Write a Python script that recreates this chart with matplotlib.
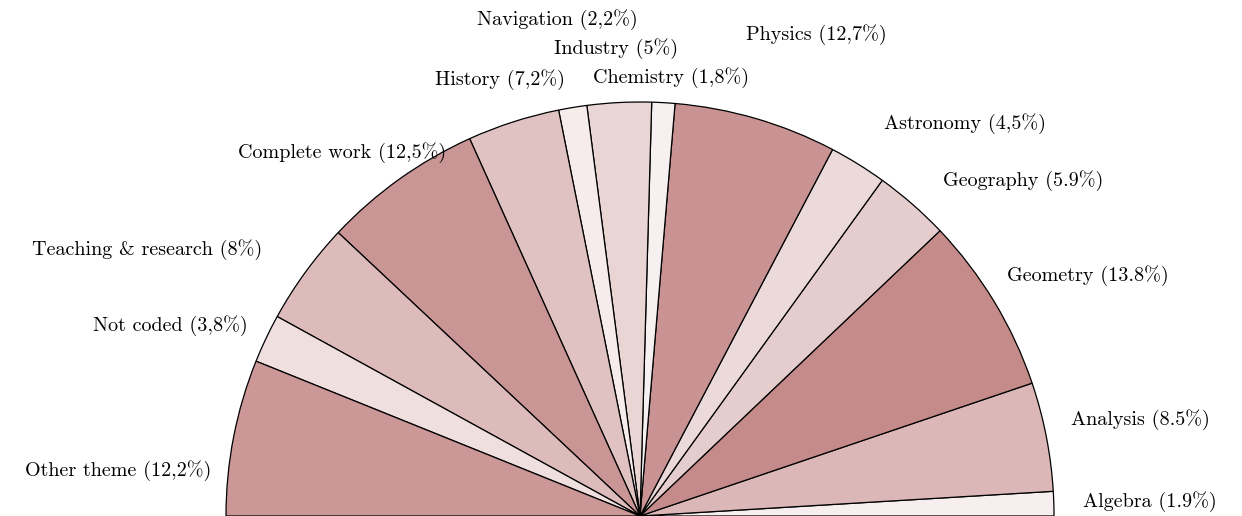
import numpy as np
import matplotlib.pyplot as plt

plt.rcParams['font.family'] = ['cmr10', 'DejaVu Serif']
plt.rcParams['axes.unicode_minus'] = False

# themes, counter-clockwise from the right
themes = ["Algebra", "Analysis", "Geometry", "Geography", "Astronomy", "Physics",
          "Chemistry", "Industry", "Navigation", "History", "Complete work",
          "Teaching & research", "Not coded", "Other theme"]
shares = [1.9, 8.5, 13.8, 5.9, 4.5, 12.7, 1.8, 5.0, 2.2, 7.2, 12.5, 8.0, 3.8, 12.2]
share_text = ["1.9%", "8.5%", "13.8%", "5.9%", "4,5%", "12,7%", "1,8%", "5%",
              "2,2%", "7,2%", "12,5%", "8%", "3,8%", "12,2%"]

# label placement (data units, radius = 1) and alignment
label_pos = [(1.070, 0.034, 'left'), (1.041, 0.232, 'left'), (0.886, 0.580, 'left'),
             (0.732, 0.809, 'left'), (0.589, 0.947, 'left'), (0.426, 1.164, 'center'),
             (0.076, 1.060, 'center'), (-0.058, 1.128, 'center'), (-0.200, 1.200, 'center'),
             (-0.338, 1.053, 'center'), (-0.469, 0.879, 'right'), (-0.913, 0.643, 'right'),
             (-0.947, 0.461, 'right'), (-1.036, 0.109, 'right')]

shares = np.array(shares)
base = np.array([128, 0, 0]) / 255.0
colors = [tuple(1 - (1 - base) * (s / 30.0)) for s in shares]

fig = plt.figure(figsize=(12.42, 5.16), dpi=100)
ax = fig.add_axes([0, 0, 1, 1])
ax.pie(shares / 200.0, normalize=False, startangle=0, counterclock=True,
       colors=colors, radius=1.0,
       wedgeprops=dict(edgecolor='black', linewidth=0.9))

for name, txt, (x, y, ha) in zip(themes, share_text, label_pos):
    ax.text(x, y, f"{name} ({txt})", ha=ha, va='center', fontsize=14.5, color='black')

ax.set_xlim(-640 / 414, 602 / 414)
ax.set_ylim(0, 516 / 414)
ax.set_aspect('equal')
ax.axis('off')

fig.savefig("out.png", dpi=100)
